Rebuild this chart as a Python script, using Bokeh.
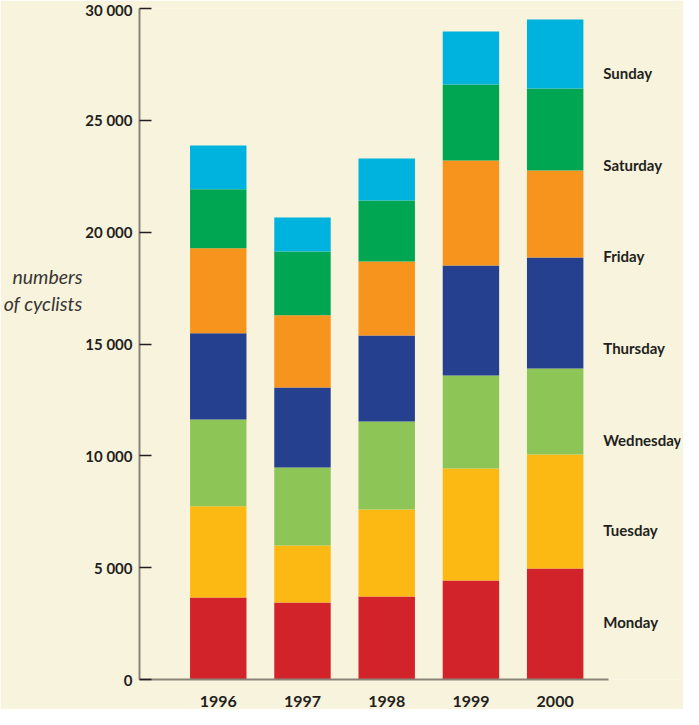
from bokeh.plotting import figure
from bokeh.models import ColumnDataSource, FixedTicker, LinearAxis, Range1d
from bokeh.core.properties import value
from bokeh.embed import file_html
from bokeh.resources import INLINE

# ---- data ----
years = [1996, 1997, 1998, 1999, 2000]
year_labels = ["1996", "1997", "1998", "1999", "2000"]
days = ["Monday", "Tuesday", "Wednesday", "Thursday", "Friday", "Saturday", "Sunday"]
monday = [3670, 3440, 3710, 4430, 4960]
tuesday = [4080, 2550, 3890, 5005, 5100]
wednesday = [3880, 3490, 3935, 4160, 3845]
thursday = [3850, 3580, 3845, 4920, 4965]
friday = [3800, 3220, 3310, 4690, 3890]
saturday = [2640, 2860, 2725, 3400, 3665]
sunday = [1950, 1520, 1880, 2370, 3085]
y_ticks = [0, 5000, 10000, 15000, 20000, 25000, 30000]
y_tick_labels = ["0", "5 000", "10 000", "15 000", "20 000", "25 000", "30 000"]
y_title_lines = ["numbers", "of cyclists"]

# ---- style / layout ----
colors = ["#D2232A", "#FDB913", "#8DC656", "#25408F", "#F7941E", "#00A651", "#00B2DE"]
bg = "#F7F3DC"
ink = "#231F20"
axis_grey = "#8A8478"
font = "Lato"
day_label_y = [2590, 6700, 10730, 14840, 18950, 23020, 27130]
title_line_y = [18018, 16811]
X_START, X_AXIS_END, X_END = 1995.065, 2000.629, 2001.488

src = ColumnDataSource(dict(
    x=years,
    Monday=monday, Tuesday=tuesday, Wednesday=wednesday, Thursday=thursday,
    Friday=friday, Saturday=saturday, Sunday=sunday,
))

p = figure(width=683, height=709, output_backend="svg", toolbar_location=None,
           x_range=Range1d(X_START, X_END), y_range=Range1d(0, 30000),
           min_border_left=134, min_border_right=3, min_border_top=8, min_border_bottom=30)
p.background_fill_color = bg
p.border_fill_color = bg
p.outline_line_color = None
p.xgrid.grid_line_color = None
p.ygrid.grid_line_color = None

p.vbar_stack(days, x="x", width=0.67, source=src, color=colors, line_color=None)

# y axis
p.yaxis.ticker = FixedTicker(ticks=y_ticks)
p.yaxis.major_label_overrides = {t: l for t, l in zip(y_ticks, y_tick_labels)}
p.yaxis.axis_line_color = axis_grey
p.yaxis.axis_line_width = 2
p.yaxis.major_tick_in = 12
p.yaxis.major_tick_out = 0
p.yaxis.major_tick_line_color = ink
p.yaxis.major_tick_line_width = 1.5
p.yaxis.minor_tick_line_color = None
p.yaxis.major_label_standoff = 7
p.yaxis.major_label_text_font = font
p.yaxis.major_label_text_font_style = "bold"
p.yaxis.major_label_text_font_size = "15px"
p.yaxis.major_label_text_color = ink

# y title: a second, line-less left axis whose two labels are the title lines
title_axis = LinearAxis(
    ticker=FixedTicker(ticks=title_line_y),
    major_label_overrides={t: l for t, l in zip(title_line_y, y_title_lines)},
    axis_line_color=None, major_tick_line_color=None, minor_tick_line_color=None,
    major_tick_in=0, major_tick_out=0, major_label_standoff=0,
    major_label_text_font=font, major_label_text_font_style="italic",
    major_label_text_font_size="19.5px", major_label_text_color="#3A3634",
)
p.add_layout(title_axis, "left")

# x axis
p.xaxis.ticker = FixedTicker(ticks=years)
p.xaxis.major_label_overrides = {y: l for y, l in zip(years, year_labels)}
p.xaxis.bounds = (X_START, X_AXIS_END)
p.xaxis.axis_line_color = axis_grey
p.xaxis.axis_line_width = 2
p.xaxis.major_tick_line_color = None
p.xaxis.minor_tick_line_color = None
p.xaxis.major_label_standoff = 10
p.xaxis.major_label_text_font = font
p.xaxis.major_label_text_font_style = "bold"
p.xaxis.major_label_text_font_size = "16px"
p.xaxis.major_label_text_color = ink

# day labels on the right
p.text(x=[2000.571] * len(days), y=day_label_y, text=days,
       text_font=value(font), text_font_style="bold", text_font_size="15px",
       text_color=ink, text_align="left", text_baseline="middle")

open("out.html", "w").write(file_html(p, INLINE))
